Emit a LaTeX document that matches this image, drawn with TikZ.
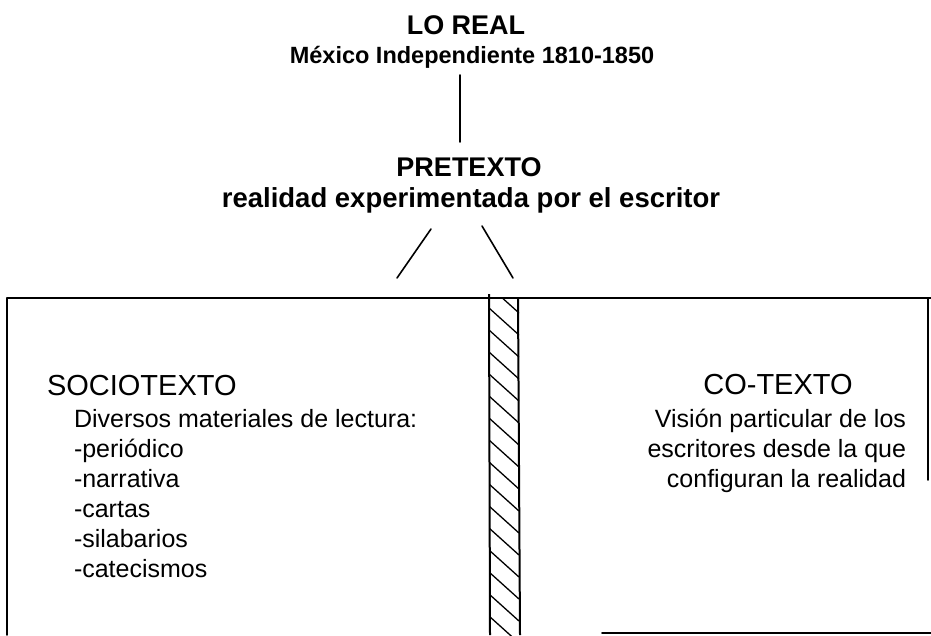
\documentclass[tikz,border=0pt]{standalone}
\usepackage{fontspec}
\setmainfont{Liberation Sans}
\begin{document}
\begin{tikzpicture}[x=1pt,y=-1pt,
  lbl/.style={inner sep=0pt, outer sep=0pt},
  ln/.style={line width=1.6pt, line cap=round},
  hatchline/.style={line width=1.3pt, line cap=round},
  ttl/.style={lbl, anchor=base, font=\fontsize{27}{27}\selectfont\bfseries},
  sub/.style={lbl, anchor=base, font=\fontsize{23.5}{24}\selectfont\bfseries},
  head/.style={lbl, font=\fontsize{29}{29}\selectfont},
  body/.style={lbl, font=\fontsize{25}{25}\selectfont},
]
\useasboundingbox (0,0) rectangle (931,635);
% top texts
\node[ttl] (loreal) at (466,34) {LO REAL};
\node[sub] (mexico) at (472,63) {México Independiente 1810-1850};
\node[ttl] (pretexto) at (469,176) {PRETEXTO};
\node[lbl, anchor=base, font=\fontsize{27.5}{28}\selectfont\bfseries] (realidad) at (471,207) {realidad experimentada por el escritor};
% connectors
\coordinate (vtop) at (460,75);
\coordinate (vbot) at (460,142);
\draw[ln] (vtop) -- (vbot);
\coordinate (dlt) at (431,229);
\coordinate (dlb) at (397,278);
\coordinate (drt) at (482,226);
\coordinate (drb) at (513,278);
\draw[ln] (dlt) -- (dlb);
\draw[ln] (drt) -- (drb);
% frame
\coordinate (tl) at (7,298);
\coordinate (tr) at (931,298);
\draw[ln] (tl) -- (tr);
\draw[ln] (7,298) -- (7,635);
\draw[ln] (928,298) -- (928,480);
\draw[ln] (602,633) -- (931,633);
% hatched column
\begin{scope}
\clip (489,298) rectangle (519,635);
\foreach \y in {286,308,...,660} \draw[hatchline] (489,\y) -- (519,\y+27);
\end{scope}
\draw[line width=2pt] (489,294) -- (490,635);
\draw[line width=2pt] (518,298) -- (520,635);
% left box text
\node[head, anchor=base west] (socio) at (47,395) {SOCIOTEXTO};
\node[body, anchor=base west] (div) at (74,427) {Diversos materiales de lectura:};
\node[body, anchor=base west] (l1) at (74,457) {-periódico};
\node[body, anchor=base west] (l2) at (74,487) {-narrativa};
\node[body, anchor=base west] (l3) at (74,517) {-cartas};
\node[body, anchor=base west] (l4) at (74,547) {-silabarios};
\node[body, anchor=base west] (l5) at (74,577) {-catecismos};
% right box text
\node[head, anchor=base] (co) at (778,394) {CO-TEXTO};
\node[body, anchor=base east] (r1) at (906,427) {Visión particular de los};
\node[body, anchor=base east] (r2) at (906,457) {escritores desde la que};
\node[body, anchor=base east] (r3) at (906,487) {configuran la realidad};
\end{tikzpicture}
\end{document}
